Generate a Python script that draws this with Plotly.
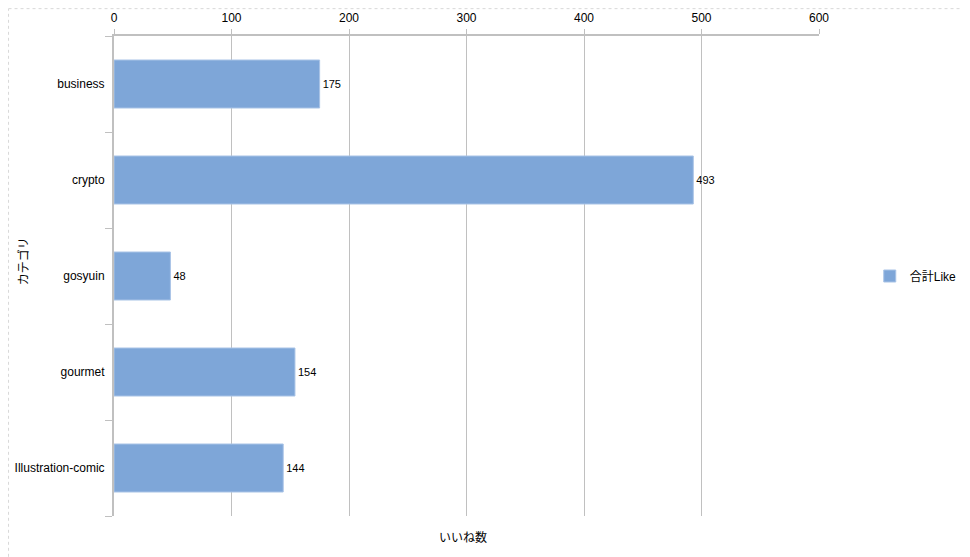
import plotly.graph_objects as go

categories = ["business", "crypto", "gosyuin", "gourmet", "Illustration-comic"]
likes = [175, 493, 48, 154, 144]
series_name = "合計Like"
x_ticks = [0, 100, 200, 300, 400, 500, 600]

fig = go.Figure()
fig.add_trace(go.Bar(
    y=categories, x=likes, orientation="h", name=series_name,
    marker=dict(color="#7ea6d8", line=dict(color="#a8c3e6", width=1)),
    text=[str(v) for v in likes], textposition="outside",
    textfont=dict(size=11, color="#000000"), cliponaxis=False,
    showlegend=True,
))

font = "Liberation Sans, Arial, Noto Sans CJK JP, sans-serif"
fig.update_layout(
    width=962, height=549,
    margin=dict(l=106, r=151, t=28, b=41, autoexpand=False),
    paper_bgcolor="white", plot_bgcolor="white",
    font=dict(family=font, size=12, color="#000000"),
    bargap=0.5,
    xaxis=dict(
        side="top", range=[0, 600], tickvals=x_ticks, automargin=False,
        showgrid=True, gridcolor="#c0c0c0", gridwidth=1,
        showline=True, linecolor="#c0c0c0", linewidth=2,
        ticks="outside", ticklen=5, tickcolor="#c0c0c0",
        zeroline=False, tickfont=dict(size=12), ticklabelstandoff=2,
    ),
    yaxis=dict(
        categoryorder="array", categoryarray=categories[::-1], automargin=False,
        showline=True, linecolor="#c0c0c0", linewidth=2,
        ticks="outside", tickson="boundaries", ticklen=7, tickcolor="#c0c0c0",
        showgrid=False, tickfont=dict(size=12), ticklabelstandoff=5,
    ),
    legend=dict(x=1.072, y=0.5, xanchor="left", yanchor="middle",
                font=dict(size=12)),
    annotations=[
        dict(text="いいね数", xref="paper", yref="paper",
             x=0.495, y=-0.025, xanchor="center", yanchor="top",
             showarrow=False, font=dict(size=12)),
        dict(text="カテゴリ", xref="paper", yref="paper", textangle=-90,
             x=-0.128, y=0.53, xanchor="center", yanchor="middle",
             showarrow=False, font=dict(size=12)),
    ],
    shapes=[
        dict(type="line", xref="paper", yref="paper", x0=-0.1496, x1=-0.1496, y0=-0.085, y1=1.057,
             line=dict(color="#d8d8d8", width=1, dash="dot")),
        dict(type="line", xref="paper", yref="paper", x0=-0.1496, x1=1.21, y0=1.057, y1=1.057,
             line=dict(color="#d8d8d8", width=1, dash="dot")),
    ],
)

fig.write_html("out.html")
